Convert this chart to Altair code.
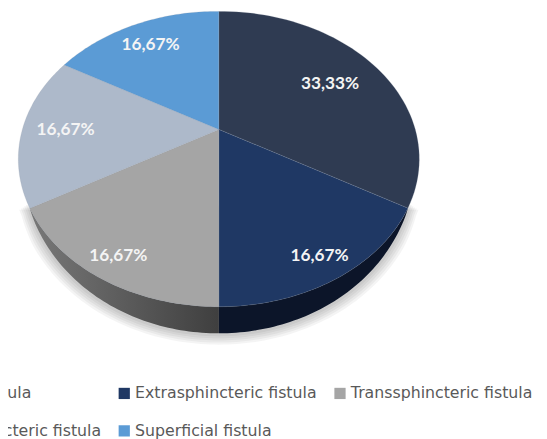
import math
import altair as alt

# --- chart values ---
names = ["Simple fistula", "Extrasphincteric fistula", "Transsphincteric fistula",
         "Intersphincteric fistula", "Superficial fistula"]
shares = [33.33, 16.67, 16.67, 16.67, 16.67]
labels = ["33,33%", "16,67%", "16,67%", "16,67%", "16,67%"]
colors = ["#2f3b52", "#1f3864", "#a5a5a5", "#adb9ca", "#5b9bd5"]
rim_navy_color = "#0c1529"
label_radius = [0.70, 0.87, 0.87, 0.78, 0.79]

# --- tilted-pie geometry (perspective view of a disc), in page pixels ---
APEX_X, APEX_Y = 222.0, 128.0
AX, AY, K = 199.4, 144.0, 0.2
DEPTH = 27.0


def project(theta_deg, r=1.0):
    t = math.radians(theta_deg)
    u, v = r * math.sin(t), r * math.cos(t)
    w = 1 + K * v
    return [APEX_X + AX * u / w, APEX_Y - AY * v / w]


def depth_at(theta_deg):
    c = -math.cos(math.radians(theta_deg))
    if c <= 0.5:
        return 0.0
    return DEPTH * ((c - 0.5) / 0.5) ** 0.75


def feature(ring, **props):
    return {"type": "Feature", "properties": props,
            "geometry": {"type": "Polygon", "coordinates": [ring + [ring[0]]]}}


total = sum(shares)
edges = [0.0]
for s in shares:
    edges.append(edges[-1] + 360.0 * s / total)

slice_feats, rim_feats, text_rows = [], [], []
for i, n in enumerate(names):
    a0, a1 = edges[i], edges[i + 1]
    steps = [a0 + (a1 - a0) * j / 60 for j in range(61)]
    ring = [[APEX_X, APEX_Y]] + [project(a) for a in steps]
    slice_feats.append(feature(ring, name=n))
    mid = (a0 + a1) / 2
    x, y = project(mid, label_radius[i])
    text_rows.append({"lon": x, "lat": y, "label": labels[i]})
    if 119 <= a0 and a1 <= 241:
        top = [project(a) for a in steps]
        bottom = [[project(a)[0], project(a)[1] + depth_at(a)] for a in reversed(steps)]
        rim_feats.append(feature(top + bottom, name=n, order=i))

# soft shadow under the rim
shadow_layers = []
for lvl in range(1, 6):
    steps = [118 + (242 - 118) * j / 120 for j in range(121)]
    ring = []
    for a in steps:
        x, y = project(a)
        grow = lvl * 1.9
        f = max(0.0, min(1.0, (-math.cos(math.radians(a)) - 0.3) / 0.3))
        dx = math.sin(math.radians(a)) * grow
        ring.append([x + dx, y + depth_at(a) + grow * f * 1.1 + 1])
    shadow_layers.append(feature(ring, lvl=lvl))

PROJ = dict(type="identity", scale=1, translate=[-8, -8])

shadow = alt.Chart(alt.Data(values=shadow_layers)).mark_geoshape(
    fill="#000000", fillOpacity=0.045, strokeWidth=0, stroke="transparent"
).project(**PROJ)

rim_grey = alt.Chart(alt.Data(values=[rim_feats[1]])).mark_geoshape(
    strokeWidth=0, stroke="transparent",
    fill=alt.Gradient(
        gradient="linear", x1=0, x2=1, y1=0, y2=0,
        stops=[alt.GradientStop(offset=0, color="#787878"),
               alt.GradientStop(offset=1, color="#3f3f3f")])
).project(**PROJ)

rim_navy = alt.Chart(alt.Data(values=[rim_feats[0]])).mark_geoshape(
    fill=rim_navy_color, strokeWidth=0, stroke="transparent"
).project(**PROJ)

slices = alt.Chart(alt.Data(values=slice_feats)).mark_geoshape(
    strokeWidth=0.4, stroke="#8b93a3", strokeOpacity=0.5
).encode(
    color=alt.Color(
        "properties.name:N",
        scale=alt.Scale(domain=names, range=colors),
        sort=names,
        legend=alt.Legend(
            title=None, orient="none", legendX=-104, legendY=380, columns=3,
            direction="horizontal",
            symbolType="square", symbolSize=130, symbolStrokeWidth=0, symbolOpacity=1,
            labelFont="DejaVu Sans", labelFontSize=16, labelColor="#595959",
            labelLimit=260, columnPadding=15, rowPadding=22, labelOffset=3,
        ),
    )
).project(**PROJ)

texts = alt.Chart(alt.Data(values=text_rows)).mark_text(
    font="Lato", fontWeight="bold", fontSize=17.5, color="#f4f4f4", dy=1
).encode(longitude="lon:Q", latitude="lat:Q", text="label:N").project(**PROJ)

chart = alt.layer(shadow, rim_grey, rim_navy, slices, texts).properties(
    width=539, height=431, padding=0,
    autosize=alt.AutoSizeParams(type="none"),
    background="#ffffff",
).configure_view(stroke=None)

chart.save("out.html", embed_options={"renderer": "svg", "actions": False})
